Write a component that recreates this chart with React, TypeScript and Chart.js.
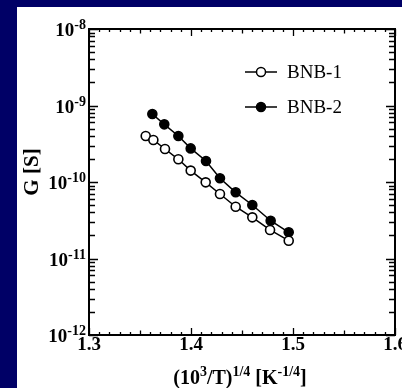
import React, { useEffect, useRef } from 'react';
import { Chart, registerables } from 'chart.js';

Chart.register(...registerables);

const seriesNames = ['BNB-1', 'BNB-2'];
const bnb1X = [1.3556, 1.3631, 1.3745, 1.3876, 1.3997, 1.4144, 1.4284, 1.4438, 1.4601, 1.4775, 1.4958];
const bnb1G = [4.0e-10, 3.54e-10, 2.7e-10, 1.98e-10, 1.41e-10, 9.9e-11, 6.97e-11, 4.75e-11, 3.45e-11, 2.36e-11, 1.71e-11];
const bnb2X = [1.3621, 1.3738, 1.3876, 1.3997, 1.4147, 1.4284, 1.4438, 1.4601, 1.4781, 1.4958];
const bnb2G = [7.74e-10, 5.67e-10, 4.0e-10, 2.75e-10, 1.88e-10, 1.12e-10, 7.33e-11, 5.0e-11, 3.12e-11, 2.2e-11];
const xTickValues = [1.3, 1.4, 1.5, 1.6];
const xTickLabels = ['1.3', '1.4', '1.5', '1.6'];
const yDecadeExponents = [-12, -11, -10, -9, -8];
const xTitleParts = [
  { t: '(10', sup: false },
  { t: '3', sup: true },
  { t: '/T)', sup: false },
  { t: '1/4', sup: true },
  { t: ' [K', sup: false },
  { t: '-1/4', sup: true },
  { t: ']', sup: false },
];
const yTitle = 'G [S]';

const SERIF = '"Liberation Serif", "Times New Roman", serif';

type Part = { t: string; sup: boolean };

function drawRich(ctx: CanvasRenderingContext2D, parts: Part[], x: number, baseline: number, align: 'left' | 'right' | 'center', mainSize: number, supSize: number, supRise: number) {
  const fMain = `bold ${mainSize}px ${SERIF}`;
  const fSup = `bold ${supSize}px ${SERIF}`;
  let total = 0;
  const widths: number[] = [];
  for (const p of parts) {
    ctx.font = p.sup ? fSup : fMain;
    const w = ctx.measureText(p.t).width;
    widths.push(w);
    total += w;
  }
  let cx = align === 'left' ? x : align === 'right' ? x - total : x - total / 2;
  ctx.textAlign = 'left';
  ctx.textBaseline = 'alphabetic';
  parts.forEach((p, i) => {
    ctx.font = p.sup ? fSup : fMain;
    ctx.fillText(p.t, cx, p.sup ? baseline - supRise : baseline);
    cx += widths[i];
  });
}

const framePlugin = {
  id: 'framePlugin',
  afterDraw(chart: any) {
    const { ctx, chartArea: a, scales } = chart;
    const xs = scales.x;
    const ys = scales.y;
    ctx.save();
    ctx.fillStyle = '#000';
    ctx.strokeStyle = '#000';

    // ticks
    ctx.lineWidth = 1.3;
    const xMajor = xTickValues[1] - xTickValues[0];
    const xMinor = xMajor / 10;
    const nX = Math.round((xTickValues[xTickValues.length - 1] - xTickValues[0]) / xMinor);
    for (let i = 0; i <= nX; i++) {
      const v = xTickValues[0] + i * xMinor;
      const px = Math.round(xs.getPixelForValue(v)) + 0.5;
      const len = i % 10 === 0 ? 7 : i % 5 === 0 ? 4.5 : 3;
      ctx.beginPath();
      ctx.moveTo(px, a.bottom);
      ctx.lineTo(px, a.bottom - len);
      ctx.moveTo(px, a.top);
      ctx.lineTo(px, a.top + len);
      ctx.stroke();
    }
    for (let d = 0; d < yDecadeExponents.length; d++) {
      const e = yDecadeExponents[d];
      const maxM = d === yDecadeExponents.length - 1 ? 1 : 9;
      for (let m = 1; m <= maxM; m++) {
        const v = m * Math.pow(10, e);
        const py = Math.round(ys.getPixelForValue(v)) + 0.5;
        const len = m === 1 ? 9 : 6;
        ctx.beginPath();
        ctx.moveTo(a.left, py);
        ctx.lineTo(a.left + len, py);
        ctx.moveTo(a.right, py);
        ctx.lineTo(a.right - len, py);
        ctx.stroke();
      }
    }

    // frame
    ctx.lineWidth = 2;
    ctx.strokeRect(a.left, a.top, a.right - a.left, a.bottom - a.top);

    // x tick labels
    ctx.font = `bold 19px ${SERIF}`;
    ctx.textAlign = 'center';
    ctx.textBaseline = 'alphabetic';
    xTickValues.forEach((v, i) => {
      ctx.fillText(xTickLabels[i], xs.getPixelForValue(v), a.bottom + 15);
    });

    // y tick labels
    yDecadeExponents.forEach((e) => {
      const py = ys.getPixelForValue(Math.pow(10, e));
      drawRich(ctx, [{ t: '10', sup: false }, { t: String(e), sup: true }], a.left - 3, py + 7, 'right', 19, 14, 7);
    });

    // x title
    drawRich(ctx, xTitleParts, (a.left + a.right) / 2 - 2, a.bottom + 49, 'center', 20, 14, 8);

    // y title
    ctx.save();
    ctx.translate(a.left - 56, (a.top + a.bottom) / 2 - 10);
    ctx.rotate(-Math.PI / 2);
    ctx.font = `bold 21px ${SERIF}`;
    ctx.textAlign = 'center';
    ctx.textBaseline = 'middle';
    ctx.fillText(yTitle, 0, 0);
    ctx.restore();

    // legend
    const lx = a.left + 156;
    const rows = [a.top + 43, a.top + 78];
    chart.data.datasets.forEach((ds: any, i: number) => {
      const ry = rows[i];
      ctx.lineWidth = 1.5;
      ctx.beginPath();
      ctx.moveTo(lx, ry);
      ctx.lineTo(lx + 32, ry);
      ctx.stroke();
      ctx.beginPath();
      ctx.arc(lx + 16, ry, 4.5, 0, Math.PI * 2);
      ctx.fillStyle = ds.pointBackgroundColor;
      ctx.fill();
      ctx.stroke();
      ctx.fillStyle = '#000';
      ctx.font = `19px ${SERIF}`;
      ctx.textAlign = 'left';
      ctx.textBaseline = 'middle';
      ctx.fillText(ds.label, lx + 42, ry + 1);
    });
    ctx.restore();
  },
};

export default function App() {
  const ref = useRef<HTMLCanvasElement | null>(null);
  useEffect(() => {
    if (!ref.current) return;
    const chart = new Chart(ref.current, {
      type: 'line',
      data: {
        datasets: [
          {
            label: seriesNames[0],
            data: bnb1X.map((x, i) => ({ x, y: bnb1G[i] })),
            borderColor: '#000',
            borderWidth: 1.5,
            pointRadius: 4.5,
            pointBorderWidth: 1.6,
            pointBackgroundColor: '#fff',
            pointBorderColor: '#000',
            tension: 0,
          },
          {
            label: seriesNames[1],
            data: bnb2X.map((x, i) => ({ x, y: bnb2G[i] })),
            borderColor: '#000',
            borderWidth: 1.5,
            pointRadius: 4.5,
            pointBorderWidth: 1.6,
            pointBackgroundColor: '#000',
            pointBorderColor: '#000',
            tension: 0,
          },
        ],
      },
      options: {
        animation: false,
        responsive: false,
        maintainAspectRatio: false,
        devicePixelRatio: 1,
        layout: { padding: { left: 72, top: 22, right: 7, bottom: 53 } },
        plugins: { legend: { display: false }, tooltip: { enabled: false } },
        scales: {
          x: { type: 'linear', min: xTickValues[0], max: xTickValues[xTickValues.length - 1], display: false },
          y: {
            type: 'logarithmic',
            min: Math.pow(10, yDecadeExponents[0]),
            max: Math.pow(10, yDecadeExponents[yDecadeExponents.length - 1]),
            display: false,
          },
        },
      },
      plugins: [framePlugin],
    });
    return () => chart.destroy();
  }, []);

  return (
    <div style={{ position: 'fixed', left: 0, top: 0, width: 402, height: 388, background: '#000066', overflow: 'hidden' }}>
      <div style={{ position: 'absolute', left: 17, top: 7, width: 385, height: 381, background: '#fff' }}>
        <canvas ref={ref} width={385} height={381} style={{ display: 'block', width: 385, height: 381 }} />
      </div>
    </div>
  );
}
